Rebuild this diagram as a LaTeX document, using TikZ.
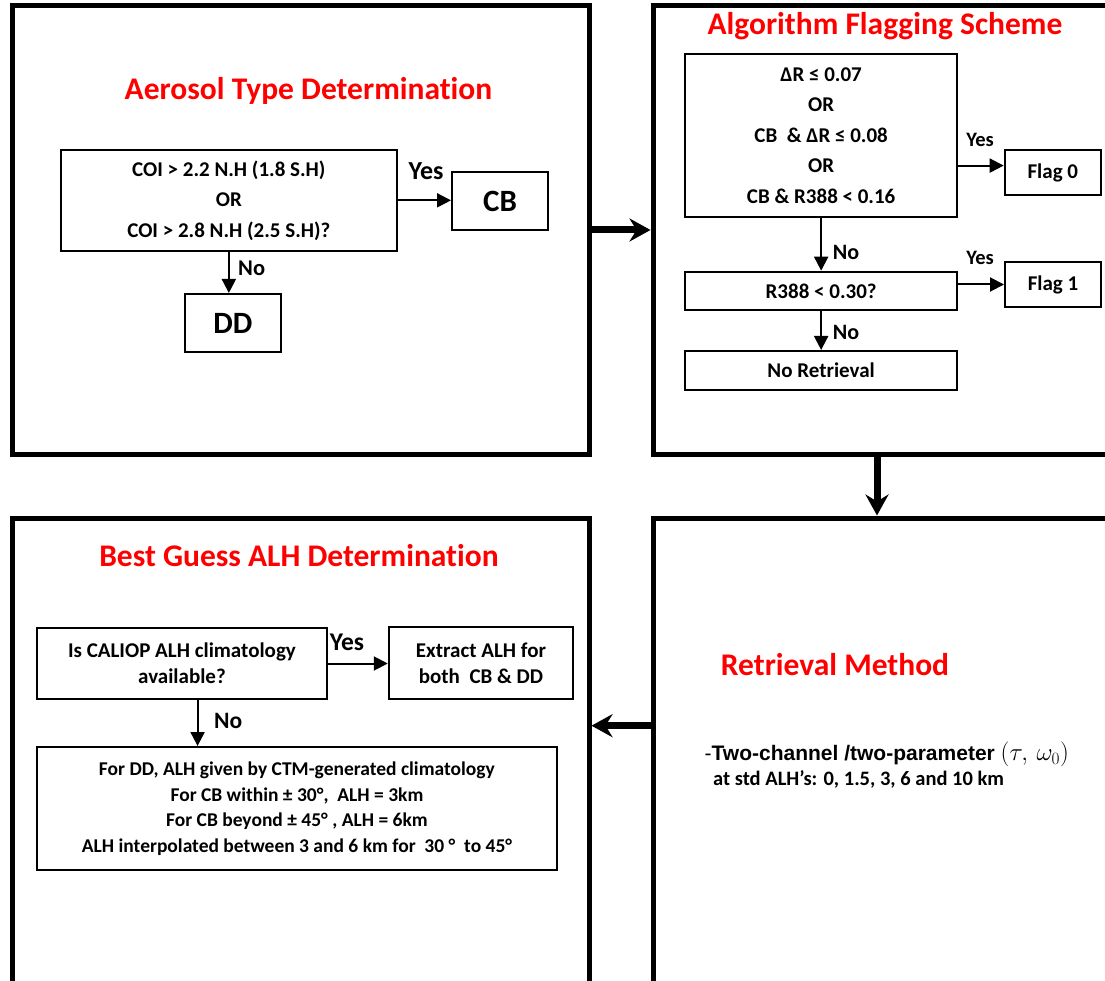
\documentclass[tikz,border=0pt]{standalone}
\usepackage{fontspec}
\setmainfont{Carlito}[Ligatures=NoCommon]
\newfontfamily\arialfont{Liberation Sans}
\usetikzlibrary{arrows.meta}

\begin{document}
\begin{tikzpicture}[x=1pt, y=-1pt,
	panel/.style={draw, line width=5pt, inner sep=0pt},
	head/.style={anchor=base, inner sep=0pt, text=red, font=\bfseries\fontsize{31.5}{36}\selectfont},
	box/.style={draw, line width=2pt, inner sep=0pt, align=center, font=\bfseries\fontsize{21}{30.5}\selectfont},
	lab/.style={anchor=base, inner sep=0pt, font=\bfseries\fontsize{22}{22}\selectfont},
	arr/.style={line width=2pt, -{Triangle[length=14pt,width=14pt]}},
	bigarr/.style={line width=7pt, -{Stealth[length=21pt,width=23pt,inset=7pt]}}]
	\useasboundingbox (0,0) rectangle (1105,981);
	\clip (0,0) rectangle (1105,981);
	% the four panels, the right and lower ones run past the page
	\node[panel, minimum width=576.5pt, minimum height=448pt] (aero) at (300.75,230) {};
	\node[panel, minimum width=507pt, minimum height=448pt] (flag) at (906.5,230) {};
	\node[panel, minimum width=576.5pt, minimum height=522pt] (best) at (300.75,779) {};
	\node[panel, minimum width=507pt, minimum height=522pt] (ret) at (906.5,779) {};
	\node[head] (aerot) at (308.5,100) {Aerosol Type Determination};
	\node[head] (flagt) at (885,35) {Algorithm Flagging Scheme};
	\node[head] (bestt) at (299,566) {Best Guess ALH Determination};
	\node[head] (rett) at (835,675.7) {Retrieval Method};
	\coordinate (drop) at (877,0);
	\coordinate (back) at (0,725.7);
	\draw[bigarr] (aero) -- (flag);
	\draw[bigarr] (flag.south -| drop) -- (ret.north -| drop);
	\draw[bigarr] (ret.west |- back) -- (best.east |- back);
	% aerosol type
	\node[box, minimum width=336.7pt, minimum height=100.7pt] (coi) at (228.85,200.35) {COI > 2.2 N.H (1.8 S.H)\\OR\\COI > 2.8 N.H (2.5 S.H)?};
	\node[box, font=\bfseries\fontsize{31}{31}\selectfont, minimum width=96pt, minimum height=58pt] (cb) at (500,201) {CB};
	\node[box, font=\bfseries\fontsize{31}{31}\selectfont, minimum width=96pt, minimum height=58pt] (dd) at (233,323) {DD};
	\draw[arr] (coi.east) -- (coi.east -| cb.west);
	\draw[arr] (coi.south) -- (coi.south |- dd.north);
	\node[lab, font=\bfseries\fontsize{26}{26}\selectfont] (yes1) at (426,180) {Yes};
	\node[lab, anchor=base west, font=\bfseries\fontsize{22.5}{22.5}\selectfont] (no1) at (238,276) {No};
	% flagging
	\node[box, minimum width=272.3pt, minimum height=162.7pt] (cond) at (821.15,135.35) {ΔR ≤ 0.07\\OR\\CB~ \& ΔR ≤ 0.08\\OR\\CB \& R388 < 0.16};
	\node[box, minimum width=96.3pt, minimum height=45pt] (flag0) at (1052.85,172.5) {Flag 0};
	\node[box, minimum width=272.3pt, minimum height=38.3pt] (r388) at (821.15,290.85) {R388 < 0.30?};
	\node[box, minimum width=96pt, minimum height=45pt] (flag1) at (1053,284.5) {Flag 1};
	\node[box, minimum width=272.3pt, minimum height=39pt] (noret) at (821.15,370.5) {No Retrieval};
	\draw[arr] (cond.east |- flag0.172) -- (flag0.172);
	\draw[arr] (cond) -- (r388);
	\draw[arr] (r388.east |- flag1.west) -- (flag1.west);
	\draw[arr] (r388) -- (noret);
	\node[lab, font=\bfseries\fontsize{20.5}{20.5}\selectfont] (yes2) at (980,147) {Yes};
	\node[lab, font=\bfseries\fontsize{20.5}{20.5}\selectfont] (yes3) at (980,265) {Yes};
	\node[lab, anchor=base west] (no2) at (832.7,260) {No};
	\node[lab, anchor=base west] (no3) at (832.7,340) {No};
	% best guess ALH
	\node[box, font=\bfseries\fontsize{21}{26}\selectfont, minimum width=290.5pt, minimum height=71.6pt] (quest) at (181.95,663.5) {Is CALIOP ALH climatology\\available?};
	\node[box, font=\bfseries\fontsize{21}{26}\selectfont, minimum width=184.5pt, minimum height=71.7pt] (extract) at (481,662.85) {Extract ALH for\\both~ CB \& DD};
	\node[box, font=\bfseries\fontsize{19.5}{25.6}\selectfont, minimum width=520.5pt, minimum height=123pt] (climo) at (296.95,808.5) {For DD, ALH given by CTM-generated climatology\\For CB within ± 30°,~ ALH = 3km\\For CB beyond ± 45° , ALH = 6km\\ALH interpolated between 3 and 6 km for~ 30 °~ to 45°};
	\draw[arr] (quest.east) -- (quest.east -| extract.west);
	\draw[arr] (quest.-67) -- (quest.-67 |- climo.north);
	\node[lab, font=\bfseries\fontsize{25.5}{25.5}\selectfont] (yes4) at (347,650.7) {Yes};
	\node[lab, anchor=base west, font=\bfseries\fontsize{23.5}{23.5}\selectfont] (no4) at (214,728) {No};
	% retrieval
	\node[anchor=base west, inner sep=0pt] (two) at (704.5,760.7) {{\arialfont\fontsize{21}{21}\selectfont -}{\arialfont\bfseries\fontsize{21}{21}\selectfont Two-channel /two-parameter }{\fontsize{25}{25}\selectfont$(\tau,\,\omega_0)$}};
	\node[anchor=base west, inner sep=0pt, font=\bfseries\fontsize{20.5}{20.5}\selectfont] (std) at (713,785.7) {at std ALH’s: 0, 1.5, 3, 6 and 10 km};
\end{tikzpicture}
\end{document}
